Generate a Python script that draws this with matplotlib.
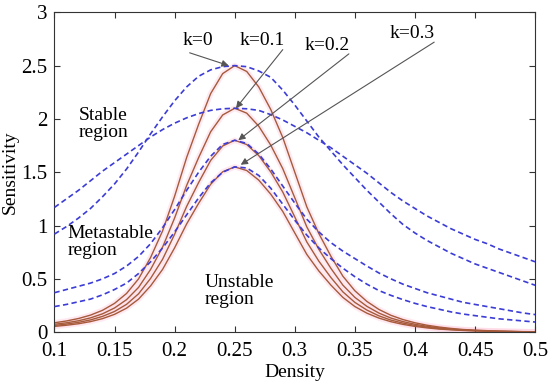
import matplotlib
matplotlib.use("Agg")
import matplotlib.pyplot as plt
import numpy as np

plt.rcParams['font.family'] = ['Liberation Serif', 'DejaVu Serif']
plt.rcParams['mathtext.fontset'] = 'stix'

density = [0.10, 0.11, 0.12, 0.13, 0.14, 0.15, 0.16, 0.17, 0.18, 0.19,
           0.20, 0.21, 0.22, 0.23, 0.24, 0.25, 0.26, 0.27, 0.28, 0.29,
           0.30, 0.31, 0.32, 0.33, 0.34, 0.35, 0.36, 0.37, 0.38, 0.39,
           0.40, 0.41, 0.42, 0.43, 0.44, 0.45, 0.46, 0.47, 0.48, 0.49, 0.50]

# solid (red) curves
red_k0 = [0.088, 0.105, 0.128, 0.16, 0.205, 0.27, 0.363, 0.50, 0.70, 0.95,
          1.275, 1.638, 1.95, 2.238, 2.425, 2.5, 2.445, 2.30, 2.088, 1.825,
          1.50, 1.175, 0.925, 0.713, 0.525, 0.388, 0.288, 0.213, 0.158, 0.118,
          0.088, 0.065, 0.048, 0.035, 0.025, 0.019, 0.014, 0.010, 0.0075, 0.005, 0.004]
red_k1 = [0.074, 0.088, 0.107, 0.134, 0.172, 0.227, 0.305, 0.42, 0.588, 0.798,
          1.071, 1.376, 1.638, 1.88, 2.037, 2.1, 2.054, 1.932, 1.754, 1.533,
          1.26, 0.987, 0.777, 0.599, 0.441, 0.326, 0.242, 0.179, 0.132, 0.099,
          0.074, 0.055, 0.040, 0.029, 0.021, 0.016, 0.012, 0.008, 0.006, 0.004, 0.003]
red_k2 = [0.063, 0.076, 0.092, 0.115, 0.148, 0.194, 0.261, 0.36, 0.504, 0.684,
          0.918, 1.179, 1.404, 1.611, 1.746, 1.8, 1.76, 1.656, 1.503, 1.314,
          1.08, 0.846, 0.666, 0.513, 0.378, 0.279, 0.207, 0.153, 0.113, 0.085,
          0.063, 0.047, 0.034, 0.025, 0.018, 0.0135, 0.010, 0.007, 0.005, 0.004, 0.003]
red_k3 = [0.054, 0.065, 0.079, 0.099, 0.127, 0.167, 0.225, 0.31, 0.434, 0.589,
          0.791, 1.015, 1.209, 1.387, 1.504, 1.55, 1.516, 1.426, 1.294, 1.132,
          0.93, 0.729, 0.574, 0.442, 0.326, 0.240, 0.178, 0.132, 0.098, 0.073,
          0.054, 0.040, 0.029, 0.022, 0.016, 0.012, 0.009, 0.006, 0.005, 0.003, 0.002]

# dashed (blue) curves
blue_k0 = [0.92, 0.99, 1.07, 1.16, 1.27, 1.39, 1.53, 1.69, 1.86, 2.02,
           2.17, 2.30, 2.40, 2.46, 2.49, 2.50, 2.49, 2.45, 2.39, 2.27,
           2.13, 1.98, 1.83, 1.70, 1.57, 1.45, 1.33, 1.22, 1.11, 1.01,
           0.93, 0.86, 0.80, 0.74, 0.69, 0.64, 0.60, 0.56, 0.52, 0.48, 0.44]
blue_k1 = [1.17, 1.25, 1.33, 1.42, 1.51, 1.59, 1.67, 1.75, 1.83, 1.90,
           1.96, 2.01, 2.05, 2.08, 2.095, 2.10, 2.095, 2.08, 2.04, 1.99,
           1.93, 1.87, 1.80, 1.73, 1.65, 1.57, 1.49, 1.40, 1.31, 1.23,
           1.16, 1.09, 1.03, 0.97, 0.92, 0.87, 0.83, 0.78, 0.74, 0.70, 0.66]
blue_k2 = [0.37, 0.40, 0.43, 0.46, 0.50, 0.55, 0.62, 0.71, 0.83, 0.98,
           1.15, 1.33, 1.50, 1.65, 1.76, 1.80, 1.77, 1.67, 1.53, 1.37,
           1.21, 1.06, 0.94, 0.84, 0.76, 0.69, 0.62, 0.555, 0.50, 0.45,
           0.41, 0.37, 0.34, 0.31, 0.28, 0.26, 0.24, 0.22, 0.20, 0.18, 0.165]
blue_k3 = [0.24, 0.26, 0.285, 0.31, 0.35, 0.40, 0.46, 0.55, 0.66, 0.79,
           0.94, 1.10, 1.26, 1.40, 1.50, 1.55, 1.54, 1.47, 1.35, 1.20,
           1.05, 0.91, 0.79, 0.69, 0.60, 0.52, 0.45, 0.39, 0.345, 0.305,
           0.27, 0.24, 0.215, 0.19, 0.17, 0.155, 0.14, 0.125, 0.115, 0.105, 0.095]

k_labels = ["k=0", "k=0.1", "k=0.2", "k=0.3"]
label_pos = [(0.219, 2.74), (0.273, 2.74), (0.327, 2.69), (0.398, 2.80)]
arrow_start = [(0.2125, 2.62), (0.290, 2.65), (0.345, 2.61), (0.416, 2.72)]
arrow_tip = [(0.245, 2.50), (0.251, 2.10), (0.253, 1.80), (0.255, 1.57)]

xticks = [0.1, 0.15, 0.2, 0.25, 0.3, 0.35, 0.4, 0.45, 0.5]
xticklabels = ["0.1", "0.15", "0.2", "0.25", "0.3", "0.35", "0.4", "0.45", "0.5"]
yticks = [0, 0.5, 1, 1.5, 2, 2.5, 3]
yticklabels = ["0", "0.5", "1", "1.5", "2", "2.5", "3"]

fig = plt.figure(figsize=(5.5, 3.84), dpi=100)
ax = fig.add_axes([0.099, 0.135, 0.874, 0.833])

red_series = [red_k0, red_k1, red_k2, red_k3]
blue_series = [blue_k0, blue_k1, blue_k2, blue_k3]

for ys in red_series:
    ax.plot(density, ys, color='#ffdbe8', lw=4.0, alpha=0.6,
            solid_capstyle='round', solid_joinstyle='round', zorder=1)
for ys in blue_series:
    ax.plot(density, ys, color='#3c3cd6', lw=1.2, dashes=(3.2, 2.0), zorder=3)
for ys in red_series:
    ax.plot(density, ys, color='#a65a3a', lw=1.0, solid_joinstyle='round', zorder=2)

for lab, lp, st, tp in zip(k_labels, label_pos, arrow_start, arrow_tip):
    ax.text(lp[0], lp[1], lab, fontsize=14, ha='center', va='center', zorder=5)
    ax.annotate("", xy=tp, xytext=st,
                arrowprops=dict(arrowstyle='-|>', color='#555555', lw=0.8,
                                mutation_scale=10, shrinkA=0, shrinkB=0,
                                facecolor='black', edgecolor='black'),
                zorder=6)

ax.text(0.1204, 1.95, "Stable\nregion", fontsize=14, ha='left', va='center', linespacing=1.0)
ax.text(0.111, 0.85, "Metastable\nregion", fontsize=14, ha='left', va='center', linespacing=1.0)
ax.text(0.2246, 0.39, "Unstable\nregion", fontsize=14, ha='left', va='center', linespacing=1.0)

ax.set_xlim(0.1, 0.5)
ax.set_ylim(0, 3)
ax.set_xticks(xticks)
ax.set_xticklabels(xticklabels)
ax.set_yticks(yticks)
ax.set_yticklabels(yticklabels)
ax.tick_params(direction='in', top=True, right=True, length=4, width=0.8,
               labelsize=15, color='#333333')
ax.tick_params(axis='x', pad=7)
ax.tick_params(axis='y', pad=5)
for s in ax.spines.values():
    s.set_linewidth(0.8)
    s.set_color('#333333')
ax.set_xlabel("Density", fontsize=14, labelpad=2)
ax.set_ylabel("Sensitivity", fontsize=14, labelpad=2)

fig.savefig("out.png", dpi=100)
